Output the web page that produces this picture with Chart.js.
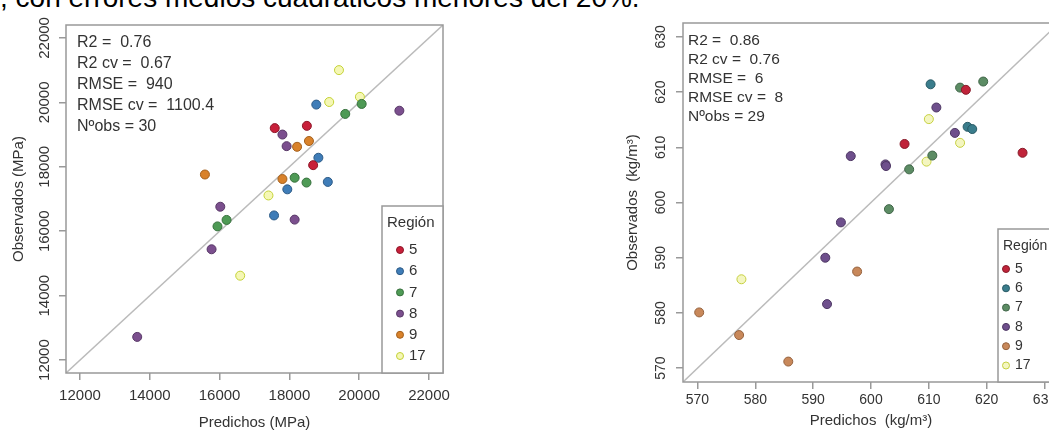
<!DOCTYPE html>
<html>
<head>
<meta charset="utf-8">
<script src="https://cdn.jsdelivr.net/npm/chart.js@4.4.1/dist/chart.umd.min.js"></script>
<style>
  html, body { margin: 0; padding: 0; background: #fff; overflow: hidden; width: 1049px; height: 432px; }
  #top { position: absolute; left: 0; top: -17px; font: 28px "Liberation Sans", Arial, sans-serif; line-height: 30px; color: #000; white-space: nowrap; }
  #c1 { position: absolute; left: 0; top: 0; }
  #c2 { position: absolute; left: 605px; top: 0; }
</style>
</head>
<body>
<div id="top">, con errores medios cuadráticos menores del 20%.</div>
<canvas id="c1" width="470" height="432"></canvas>
<canvas id="c2" width="480" height="432"></canvas>
<script>
const regions = ['5', '6', '7', '8', '9', '17'];

// módulo de elasticidad (MPa)
const moePred = [19420, 18770, 19140, 20020, 20070, 19600, 21150, 17580, 17800, 18500,
                 17920, 18220, 18560, 18830, 18680, 15580, 17800, 18150, 18490, 19100,
                 17940, 17400, 16020, 16200, 15940, 17560, 18150, 15770, 16590, 13640];
const moeObs  = [21000, 19930, 20010, 20170, 19950, 19640, 19740, 19200, 19000, 19270,
                 18640, 18620, 18800, 18280, 18050, 17760, 17620, 17660, 17510, 17530,
                 17300, 17110, 16760, 16350, 16150, 16490, 16360, 15440, 14620, 12720];
const moeReg  = ['17', '6', '17', '17', '7', '7', '8', '5', '8', '5',
                 '8', '9', '9', '6', '5', '9', '9', '7', '7', '6',
                 '6', '17', '8', '7', '7', '6', '8', '8', '17', '8'];
const moeTicks = [12000, 14000, 16000, 18000, 20000, 22000];
const moeLim = [11600, 22400];
const moeStats = ['R2 =  0.76', 'R2 cv =  0.67', 'RMSE =  940', 'RMSE cv =  1100.4', 'Nºobs = 30'];

// densidad (kg/m3)
const denPred = [610.3, 619.4, 615.4, 616.4, 611.3, 610.0, 616.7, 617.5, 614.5, 615.4,
                 605.8, 626.2, 596.5, 610.6, 609.6, 602.5, 602.6, 606.6, 603.1, 594.8,
                 592.1, 597.6, 577.6, 592.4, 570.3, 577.2, 585.7];
const denObs  = [621.4, 621.9, 620.8, 620.4, 617.2, 615.1, 613.7, 613.3, 612.6, 610.8,
                 610.6, 609.0, 608.4, 608.5, 607.4, 606.9, 606.6, 606.0, 598.8, 596.4,
                 590.0, 587.5, 586.1, 581.6, 580.1, 576.0, 571.2];
const denReg  = ['6', '7', '7', '5', '8', '17', '6', '6', '8', '17',
                 '5', '5', '8', '7', '17', '8', '8', '7', '7', '8',
                 '8', '9', '17', '8', '9', '9', '9'];
const denTicks = [570, 580, 590, 600, 610, 620, 630];
const denLim = [567.5, 632.5];
const denStats = ['R2 =  0.86', 'R2 cv =  0.76', 'RMSE =  6', 'RMSE cv =  8', 'Nºobs = 29'];

const moeFill = ['#c8203a', '#3f7db8', '#4e9a55', '#7b4f8e', '#d9822b', '#f5f7b5'];
const moeEdge = ['#8e1628', '#2c5a86', '#36703c', '#573766', '#a35f1c', '#c4d236'];
const denFill = ['#c0243a', '#3a7d8c', '#5c8c64', '#6e4f8c', '#c8885a', '#f4f6c0'];
const denEdge = ['#861a29', '#285a65', '#406548', '#4d3763', '#95623e', '#c6d040'];

Chart.defaults.font.family = '"Liberation Sans", Arial, sans-serif';
Chart.defaults.color = '#333';

const framePlugin = {
  id: 'frame',
  afterDatasetsDraw(chart, args, o) {
    const { ctx, chartArea: a } = chart;
    ctx.save();
    ctx.strokeStyle = '#999';
    ctx.lineWidth = 1.5;
    ctx.strokeRect(a.left, a.top, a.right - a.left, a.bottom - a.top);

    ctx.fillStyle = '#333';
    ctx.font = o.size + 'px "Liberation Sans", Arial, sans-serif';
    ctx.textAlign = 'left';
    ctx.textBaseline = 'middle';
    o.stats.forEach((s, i) => ctx.fillText(s, a.left + o.statX, a.top + o.statY + i * o.statGap));

    // leyenda
    ctx.font = o.legSize + 'px "Liberation Sans", Arial, sans-serif';
    const lx = a.right - o.legW, ly = a.bottom - o.legH;
    ctx.fillStyle = '#fff';
    ctx.fillRect(lx, ly, o.legW, o.legH);
    ctx.strokeRect(lx, ly, o.legW, o.legH);
    ctx.fillStyle = '#333';
    ctx.fillText('Región', lx + 5, ly + o.titleY);
    regions.forEach((r, i) => {
      const y = ly + o.rowY + i * o.rowGap;
      ctx.beginPath();
      ctx.arc(lx + o.markX, y, 3.5, 0, Math.PI * 2);
      ctx.fillStyle = o.fill[i];
      ctx.fill();
      ctx.strokeStyle = o.edge[i];
      ctx.lineWidth = 1;
      ctx.stroke();
      ctx.fillStyle = '#333';
      ctx.fillText(r, lx + o.markX + 9, y);
    });
    ctx.restore();
  }
};

function buildDatasets(pred, obs, reg, lim, fill, edge) {
  const sets = regions.map((r, i) => ({
    type: 'scatter',
    label: r,
    data: pred.map((p, k) => ({ x: p, y: obs[k], r: reg[k] })).filter(d => d.r === r),
    backgroundColor: fill[i],
    borderColor: edge[i],
    borderWidth: 1,
    pointRadius: 4.5
  }));
  sets.push({
    type: 'line',
    label: '1:1',
    data: [{ x: lim[0], y: lim[0] }, { x: lim[1], y: lim[1] }],
    borderColor: '#bbbbbb',
    borderWidth: 1.5,
    pointRadius: 0,
    order: 10
  });
  return sets;
}

function makeChart(id, cfg) {
  const tickFont = { size: cfg.tickSize };
  const titleFont = { size: 15 };
  return new Chart(document.getElementById(id), {
    type: 'scatter',
    data: { datasets: buildDatasets(cfg.pred, cfg.obs, cfg.reg, cfg.lim, cfg.fill, cfg.edge) },
    options: {
      responsive: false,
      animation: false,
      layout: { padding: { top: cfg.padTop, right: cfg.padRight, left: 0, bottom: 0 } },
      plugins: {
        legend: { display: false },
        tooltip: { enabled: false },
        frame: cfg.frame
      },
      scales: {
        x: {
          type: 'linear',
          min: cfg.lim[0],
          max: cfg.lim[1],
          afterBuildTicks: s => { s.ticks = cfg.ticks.map(v => ({ value: v })); },
          afterFit: s => { s.height = cfg.xHeight; },
          grid: { drawOnChartArea: false, drawTicks: true, tickLength: 7, color: '#999', lineWidth: 1.5 },
          border: { display: false },
          ticks: { autoSkip: false, maxRotation: 0, font: tickFont, color: '#333', padding: cfg.xPad, callback: v => String(v) },
          title: { display: true, text: cfg.xTitle, font: titleFont, color: '#333', padding: { top: 0, bottom: cfg.xTitlePad } }
        },
        y: {
          type: 'linear',
          min: cfg.lim[0],
          max: cfg.lim[1],
          afterBuildTicks: s => { s.ticks = cfg.ticks.map(v => ({ value: v })); },
          afterFit: s => { s.width = cfg.yWidth; },
          grid: { drawOnChartArea: false, drawTicks: true, tickLength: 7, color: '#999', lineWidth: 1.5 },
          border: { display: false },
          ticks: { autoSkip: false, minRotation: 90, maxRotation: 90, crossAlign: 'center', font: tickFont, color: '#333', padding: cfg.yPad, callback: v => String(v) },
          title: { display: true, text: cfg.yTitle, font: titleFont, color: '#333', padding: { top: cfg.yTitlePad, bottom: 0 } }
        }
      }
    },
    plugins: [framePlugin]
  });
}

makeChart('c1', {
  pred: moePred, obs: moeObs, reg: moeReg, lim: moeLim, ticks: moeTicks,
  fill: moeFill, edge: moeEdge,
  xTitle: 'Predichos (MPa)', yTitle: 'Observados (MPa)',
  tickSize: 15, padTop: 25, padRight: 27, xHeight: 59, yWidth: 66,
  xPad: 7, xTitlePad: 0, yPad: -7, yTitlePad: 10,
  frame: { stats: moeStats, size: 16, legSize: 15, statX: 11, statY: 18, statGap: 21,
           legW: 61, legH: 167, titleY: 17, rowY: 44, rowGap: 21.2, markX: 18,
           fill: moeFill, edge: moeEdge }
});

makeChart('c2', {
  pred: denPred, obs: denObs, reg: denReg, lim: denLim, ticks: denTicks,
  fill: denFill, edge: denEdge,
  xTitle: 'Predichos  (kg/m³)', yTitle: 'Observados  (kg/m³)',
  tickSize: 14, padTop: 23, padRight: 26, xHeight: 50, yWidth: 78,
  xPad: 3, xTitlePad: 2, yPad: 3, yTitlePad: 19,
  frame: { stats: denStats, size: 15.5, legSize: 14, statX: 5, statY: 18, statGap: 19,
           legW: 61, legH: 153, titleY: 17, rowY: 40, rowGap: 19.3, markX: 8,
           fill: denFill, edge: denEdge }
});
</script>
</body>
</html>
